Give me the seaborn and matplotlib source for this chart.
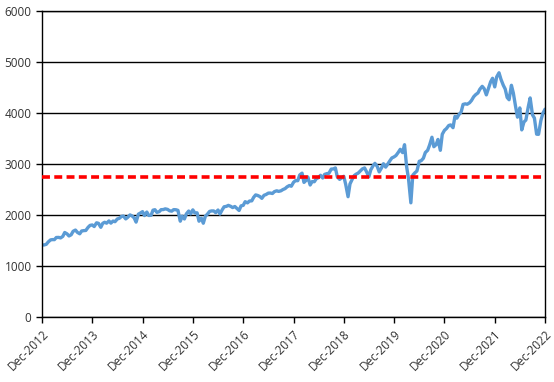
import pandas as pd
import seaborn as sns
import matplotlib.pyplot as plt
import matplotlib.dates as mdates

# semi-monthly index levels (1st and 15th of each month)
v2012 = [1416, 1413]
v2013 = [1426, 1472, 1513, 1519, 1518, 1560, 1562, 1552, 1582, 1658, 1631, 1590,
         1614, 1682, 1706, 1661, 1633, 1688, 1695, 1698, 1761, 1798, 1806, 1775]
v2014 = [1848, 1838, 1760, 1838, 1859, 1841, 1885, 1842, 1883, 1870, 1924, 1936,
         1973, 1981, 1925, 1955, 2003, 1984, 1946, 1862, 2018, 2039, 2067, 1990]
v2015 = [2059, 1992, 1995, 2096, 2105, 2053, 2067, 2106, 2108, 2122, 2111, 2084,
         2077, 2107, 2104, 2092, 1880, 1979, 1923, 2023, 2079, 2023, 2102, 2043]
v2016 = [2044, 1880, 1940, 1840, 1978, 2015, 2072, 2081, 2081, 2047, 2099, 2020,
         2102, 2162, 2171, 2190, 2171, 2147, 2168, 2133, 2090, 2180, 2191, 2262]
v2017 = [2239, 2275, 2279, 2349, 2395, 2385, 2363, 2328, 2388, 2402, 2430, 2432,
         2423, 2459, 2476, 2464, 2476, 2500, 2519, 2553, 2579, 2565, 2642, 2675]
v2018 = [2674, 2786, 2822, 2640, 2677, 2747, 2590, 2656, 2654, 2711, 2735, 2780,
         2727, 2798, 2813, 2819, 2902, 2904, 2924, 2750, 2700, 2730, 2760, 2600]
v2019 = [2360, 2610, 2706, 2775, 2803, 2822, 2867, 2905, 2924, 2850, 2752, 2887,
         2964, 3014, 2953, 2847, 2926, 3007, 2940, 2995, 3066, 3120, 3141, 3168]
v2020 = [3231, 3289, 3225, 3380, 2954, 2711, 2240, 2783, 2830, 2864, 3055, 3066,
         3115, 3226, 3271, 3373, 3526, 3340, 3380, 3483, 3270, 3585, 3662, 3695]
v2021 = [3756, 3768, 3714, 3934, 3901, 3968, 4020, 4170, 4181, 4173, 4202, 4246,
         4320, 4360, 4395, 4468, 4524, 4480, 4357, 4471, 4613, 4682, 4513, 4709]
v2022 = [4790, 4663, 4546, 4471, 4306, 4262, 4545, 4392, 4132, 3920, 4101, 3670,
         3825, 3863, 4118, 4297, 3966, 3901, 3586, 3583, 3856, 3992, 4076]

threshold = 2750
tick_years = list(range(2012, 2023))

values = v2012 + v2013 + v2014 + v2015 + v2016 + v2017 + v2018 + v2019 + v2020 + v2021 + v2022
dates = pd.date_range("2012-12-01", "2022-12-01", freq="SMS")
df = pd.DataFrame({"date": dates, "value": values})

sns.set_style("white")
plt.rcParams["font.family"] = ["Open Sans", "DejaVu Sans"]

fig = plt.figure(figsize=(5.54, 3.82), dpi=100)
ax = fig.add_axes([0.0758, 0.170, 0.908, 0.801])

sns.lineplot(df, x="date", y="value", ax=ax, color="#5B9BD5", linewidth=2.4)
ax.axhline(threshold, color="#FF0000", linewidth=2.6, linestyle=(0, (2.2, 1.2)), zorder=3)

ax.set_ylim(0, 6000)
ax.set_yticks(range(0, 6001, 1000))
ax.set_xlim(pd.Timestamp("2012-12-01"), pd.Timestamp("2022-12-01"))
ax.set_xticks([pd.Timestamp(f"{y}-12-01") for y in tick_years])
ax.xaxis.set_major_formatter(mdates.DateFormatter("%b-%Y"))
plt.setp(ax.get_xticklabels(), rotation=45, ha="right", rotation_mode="anchor")
ax.tick_params(axis="both", labelsize=8.5, colors="#333333", length=4, width=1,
               direction="out", bottom=True, left=True)
ax.tick_params(axis="both", color="black")
ax.yaxis.grid(True, color="black", linewidth=1)
ax.set_axisbelow(True)
ax.set_xlabel("")
ax.set_ylabel("")
for s in ax.spines.values():
    s.set_color("black")
    s.set_linewidth(1)

plt.savefig("out.png", dpi=100)
